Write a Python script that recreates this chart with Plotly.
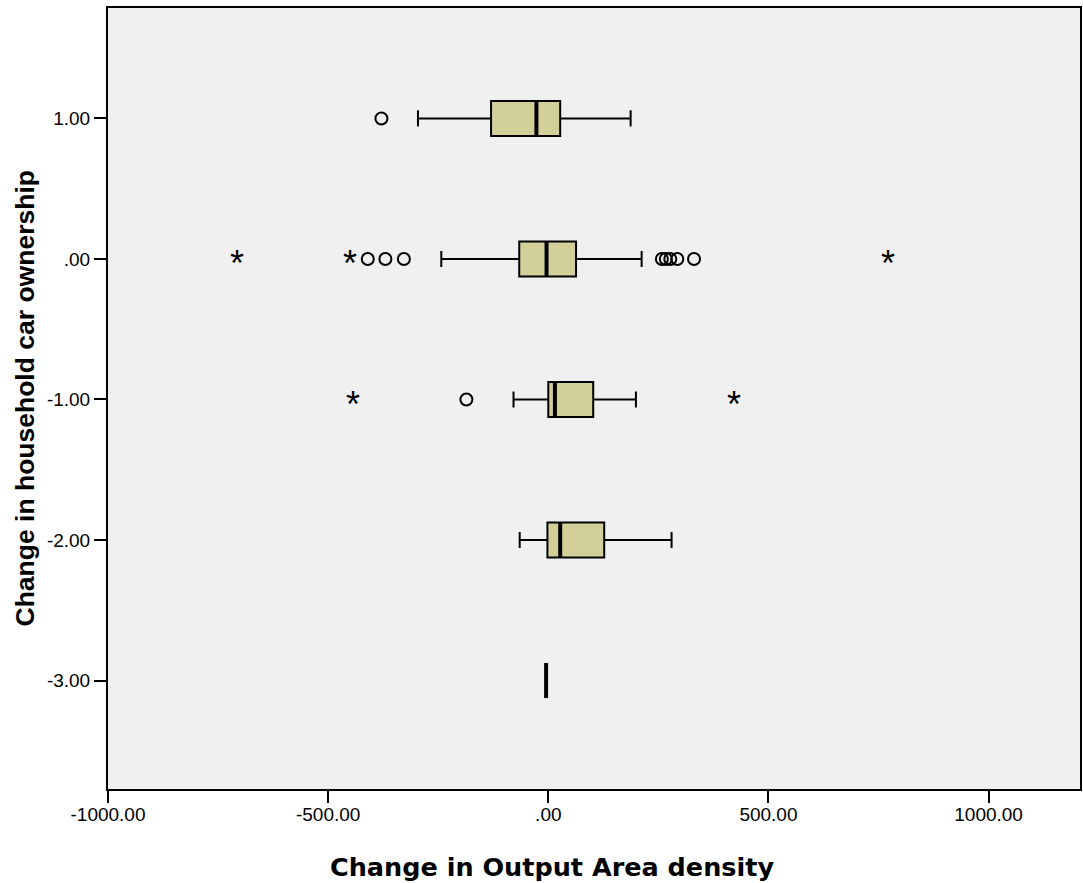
import plotly.graph_objects as go

# Car-ownership change groups (y) and their density-change summaries (x)
groups = [1, 0, -1, -2, -3]
group_labels = ["1.00", ".00", "-1.00", "-2.00", "-3.00"]

lower_whisker = [-296, -243, -79, -65, -5]
q1 = [-130, -66, 0, -2, -5]
median = [-27, -4, 15, 27, -5]
q3 = [27, 63, 102, 127, -5]
upper_whisker = [187, 212, 199, 280, -5]

# Outliers (circles) and extreme values (stars), per group
outlier_group = [1, 0, 0, 0, 0, 0, 0, 0, 0, -1]
outlier_value = [-379, -410, -370, -328, 258, 267, 277, 293, 331, -186]
extreme_group = [0, 0, 0, -1, -1]
extreme_value = [-706, -451, 771, -444, 422]

x_ticks = [-1000, -500, 0, 500, 1000]
x_tick_labels = ["-1000.00", "-500.00", ".00", "500.00", "1000.00"]

BOX_W = 0.25
FILL = "#d3cf99"

fig = go.Figure()

fig.add_trace(go.Box(
    y=groups,
    q1=q1, median=median, q3=q3,
    lowerfence=lower_whisker, upperfence=upper_whisker,
    orientation="h",
    width=BOX_W,
    whiskerwidth=0.46,
    fillcolor=FILL,
    line=dict(color="black", width=2),
    boxpoints=False,
    hoverinfo="skip",
    showlegend=False,
))

# Heavy median bars drawn over each box
for g, m in zip(groups, median):
    fig.add_trace(go.Scatter(
        x=[m, m], y=[g - BOX_W / 2, g + BOX_W / 2],
        mode="lines", line=dict(color="black", width=4),
        hoverinfo="skip", showlegend=False,
    ))

fig.add_trace(go.Scatter(
    x=outlier_value, y=outlier_group, mode="markers",
    marker=dict(symbol="circle-open", size=12, color="black",
                line=dict(color="black", width=2)),
    hoverinfo="skip", showlegend=False,
))

annotations = []
for g, v in zip(extreme_group, extreme_value):
    annotations.append(dict(
        x=v, y=g, xref="x", yref="y", text="*", showarrow=False,
        font=dict(family="Liberation Sans", size=36, color="black"),
        xanchor="center", yanchor="middle", yshift=-5,
    ))

annotations.append(dict(
    x=(552.5 - 108) / 974, y=0, xref="paper", yref="paper",
    text="<b>Change in Output Area density</b>", showarrow=False,
    font=dict(family="DejaVu Sans", size=25.5, color="black"),
    xanchor="center", yanchor="middle", yshift=-78,
))
annotations.append(dict(
    x=0, y=0.5, xref="paper", yref="paper",
    text="<b>Change in household car ownership</b>", showarrow=False,
    textangle=-90,
    font=dict(family="Liberation Sans", size=26.5, color="black"),
    xanchor="center", yanchor="middle", xshift=-84,
))

fig.update_layout(
    width=1083, height=883,
    margin=dict(l=108, r=1, t=8, b=94),
    paper_bgcolor="white",
    plot_bgcolor="#f0f0f0",
    annotations=annotations,
    font=dict(family="Liberation Sans", size=18, color="black"),
)

fig.update_xaxes(
    range=[-1000, 1207.6],
    tickvals=x_ticks, ticktext=x_tick_labels,
    ticks="outside", ticklen=12, tickwidth=2, tickcolor="black",
    ticklabelstandoff=-5,
    showline=True, linecolor="black", linewidth=2, mirror=True,
    showgrid=False, zeroline=False,
    tickfont=dict(family="Liberation Sans", size=19, color="black"),
)
fig.update_yaxes(
    range=[-3.772, 1.786],
    tickvals=groups, ticktext=group_labels,
    ticks="outside", ticklen=12, tickwidth=2, tickcolor="black",
    showline=True, linecolor="black", linewidth=2, mirror=True,
    showgrid=False, zeroline=False,
    tickfont=dict(family="Liberation Sans", size=19, color="black"),
)

fig.write_html("out.html")
